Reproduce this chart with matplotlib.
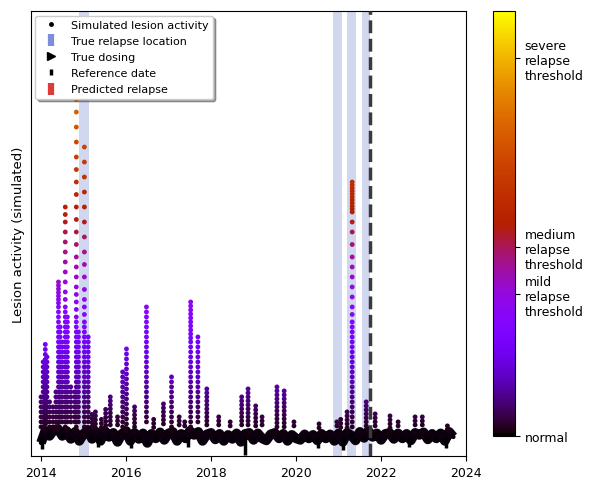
# Simulated lesion activity over time, coloured by severity, with relapse windows
# and the reference date marked.

import numpy as np
import matplotlib.pyplot as plt
from matplotlib.colors import Normalize
from matplotlib.cm import ScalarMappable
from matplotlib.lines import Line2D

# ---------- Data ----------
# baseline noise, one value every 0.1 year starting 2014.0
base_start = 2014.0
base_step = 0.1
baseline_values = [
    -0.12, 0.12, 0.02, 0.14, 0.16, 0.02, 0.12, -0.04, 0.10, -0.08,
    0.06, 0.14, -0.04, 0.10, -0.08, 0.12, 0.00, 0.08, -0.10, 0.06,
    0.12, -0.08, 0.08, -0.04, 0.07, -0.12, 0.06, -0.03, 0.09, -0.06,
    0.07, 0.10, -0.08, 0.06, -0.03, 0.12, 0.04, 0.10, -0.08, 0.05,
    0.08, -0.05, 0.06, -0.08, 0.04, -0.04, 0.07, -0.10, 0.06, 0.08,
    -0.06, 0.07, -0.03, -0.07, 0.05, 0.08, -0.03, 0.06, -0.08, 0.04,
    -0.03, -0.06, 0.05, -0.03, 0.04, -0.07, 0.06, -0.03, 0.05, -0.08,
    0.07, -0.10, 0.08, 0.03, -0.07, 0.10, -0.02, 0.12, 0.00, 0.07,
    -0.06, 0.06, 0.08, -0.04, 0.07, -0.03, 0.06, -0.07, 0.08, 0.04,
    0.09, -0.05, 0.06, -0.03, 0.07, -0.08, 0.10, 0.00,
]

# short downward ticks below the band
dip_dates = [2014.02, 2015.35, 2016.12, 2017.45, 2018.80, 2020.52, 2021.10, 2022.65, 2023.52]
dip_values = [-0.24, -0.20, -0.22, -0.20, -0.36, -0.22, -0.26, -0.20, -0.22]

# activity flares: date and the heights of the daily points in each flare
spike_dates = [
    2014.00, 2014.05, 2014.10, 2014.14, 2014.20, 2014.28, 2014.35, 2014.41,
    2014.45, 2014.50, 2014.57, 2014.62, 2014.70, 2014.79, 2014.83, 2014.88,
    2015.02, 2015.11, 2015.20, 2015.28, 2015.42, 2015.52, 2015.63, 2015.80,
    2015.92, 2016.01, 2016.20, 2016.48, 2016.65, 2016.88, 2017.07, 2017.25,
    2017.38, 2017.52, 2017.69, 2017.90, 2018.18, 2018.45, 2018.72, 2018.87,
    2019.05, 2019.20, 2019.55, 2019.72, 2019.95, 2020.54, 2020.96, 2021.05,
    2021.20, 2021.32, 2021.65, 2021.86, 2022.21, 2022.40, 2022.80, 2022.97,
    2023.56,
]
spike_values = [
    [0.8, 0.7, 0.6, 0.5, 0.4, 0.3, 0.2],
    [1.5, 1.4, 1.3, 1.2, 1.1, 1.0, 0.9, 0.8, 0.7, 0.6, 0.5, 0.4, 0.3, 0.2],
    [1.85, 1.75, 1.65, 1.55, 1.45, 1.35, 1.25, 1.15, 1.05, 0.95, 0.85,
     0.75, 0.65, 0.55, 0.45, 0.35, 0.25],
    [1.6, 1.5, 1.4, 1.3, 1.2, 1.1, 1.0, 0.9, 0.8, 0.7, 0.6, 0.5, 0.4, 0.3],
    [0.7, 0.6, 0.5, 0.4, 0.3, 0.2],
    [0.6, 0.5, 0.4, 0.3, 0.2],
    [0.9, 0.8, 0.7, 0.6, 0.5, 0.4, 0.3, 0.2],
    [3.1, 3.03, 2.96, 2.89, 2.82, 2.75, 2.68, 2.6, 2.5, 2.4, 2.3, 2.2, 2.1,
     2.0, 1.9, 1.8, 1.7, 1.6, 1.5, 1.4, 1.3, 1.2, 1.1, 1.0, 0.9, 0.8, 0.7,
     0.6, 0.5, 0.4, 0.3, 0.2],
    [2.2, 2.1, 2.0, 1.9, 1.8, 1.7, 1.6, 1.5, 1.4, 1.3, 1.2, 1.1, 1.0, 0.9,
     0.8, 0.7, 0.6, 0.5, 0.4, 0.3],
    [1.9, 1.8, 1.7, 1.6, 1.5, 1.4, 1.3, 1.2, 1.1, 1.0, 0.9, 0.8, 0.7, 0.6,
     0.5, 0.4, 0.3],
    [4.6, 4.45, 4.3, 4.1, 3.9, 3.7, 3.5, 3.3, 3.1, 2.9, 2.75, 2.6, 2.5, 2.4,
     2.3, 2.2, 2.1, 2.0, 1.9, 1.8, 1.7, 1.6, 1.5, 1.4, 1.3, 1.2, 1.1, 1.0,
     0.9, 0.8, 0.7, 0.6, 0.5, 0.4, 0.3, 0.2],
    [2.4, 2.3, 2.2, 2.1, 2.0, 1.9, 1.8, 1.7, 1.6, 1.5, 1.4, 1.3, 1.2, 1.1,
     1.0, 0.9, 0.8, 0.7, 0.6, 0.5, 0.4, 0.3],
    [1.0, 0.9, 0.8, 0.7, 0.6, 0.5, 0.4, 0.3],
    [0.9, 0.8, 0.7, 0.6, 0.5, 0.4, 0.3],
    [8.1, 7.85, 7.6, 7.3, 7.0, 6.75, 6.5, 6.2, 5.9, 5.6, 5.35, 5.1, 4.85,
     4.6, 4.35, 4.1, 3.85, 3.6, 3.4, 3.2, 3.0, 2.85, 2.7, 2.55, 2.4, 2.3,
     2.2, 2.1, 2.0, 1.9, 1.8, 1.7, 1.6, 1.5, 1.4, 1.3, 1.2, 1.1, 1.0, 0.9,
     0.8, 0.7, 0.6, 0.5, 0.4, 0.3, 0.2],
    [2.1, 2.0, 1.9, 1.8, 1.7, 1.6, 1.5, 1.4, 1.3, 1.2, 1.1, 1.0, 0.9, 0.8,
     0.7, 0.6, 0.5, 0.4, 0.3],
    [5.8, 5.5, 5.2, 4.9, 4.6, 4.3, 4.0, 3.7, 3.45, 3.2, 2.95, 2.75, 2.6,
     2.45, 2.3, 2.2, 2.1, 2.0, 1.9, 1.8, 1.7, 1.6, 1.5, 1.4, 1.3, 1.2, 1.1,
     1.0, 0.9, 0.8, 0.7, 0.6, 0.5, 0.4, 0.3, 0.2],
    [2.0, 1.9, 1.8, 1.7, 1.6, 1.5, 1.4, 1.3, 1.2, 1.1, 1.0, 0.9, 0.8, 0.7,
     0.6, 0.5, 0.4, 0.3],
    [0.45, 0.37, 0.29, 0.21],
    [0.5, 0.42, 0.34, 0.26, 0.18],
    [0.35, 0.27, 0.19],
    [0.55, 0.47, 0.39, 0.31, 0.23],
    [0.8, 0.72, 0.64, 0.56, 0.48, 0.4, 0.32, 0.24],
    [0.4, 0.32, 0.24],
    [1.3, 1.2, 1.1, 1.0, 0.9, 0.8, 0.7, 0.6, 0.5, 0.4, 0.3, 0.2],
    [1.76, 1.66, 1.56, 1.46, 1.36, 1.26, 1.16, 1.06, 0.96, 0.86, 0.76,
     0.66, 0.56, 0.46, 0.36, 0.26],
    [0.6, 0.52, 0.44, 0.36, 0.28, 0.2],
    [2.6, 2.5, 2.4, 2.3, 2.2, 2.1, 2.0, 1.9, 1.8, 1.7, 1.6, 1.5, 1.4, 1.3,
     1.2, 1.1, 1.0, 0.9, 0.8, 0.7, 0.6, 0.5, 0.4, 0.3],
    [0.35, 0.27, 0.19],
    [0.66, 0.58, 0.5, 0.42, 0.34, 0.26],
    [1.2, 1.1, 1.0, 0.9, 0.8, 0.7, 0.6, 0.5, 0.4, 0.3, 0.2],
    [0.4, 0.32, 0.24],
    [0.3, 0.22],
    [2.7, 2.62, 2.54, 2.46, 2.38, 2.3, 2.22, 2.14, 2.06, 1.98, 1.9, 1.8,
     1.7, 1.6, 1.5, 1.4, 1.3, 1.2, 1.1, 1.0, 0.9, 0.8, 0.7, 0.6, 0.5, 0.4,
     0.3, 0.2],
    [2.0, 1.9, 1.8, 1.7, 1.6, 1.5, 1.4, 1.3, 1.2, 1.1, 1.0, 0.9, 0.8, 0.7,
     0.6, 0.5, 0.4, 0.3],
    [0.96, 0.88, 0.8, 0.72, 0.64, 0.56, 0.48, 0.4, 0.32, 0.24],
    [0.4, 0.32, 0.24],
    [0.3, 0.22],
    [0.8, 0.72, 0.64, 0.56, 0.48, 0.4, 0.32, 0.24],
    [0.96, 0.88, 0.8, 0.72, 0.64, 0.56, 0.48, 0.4, 0.32, 0.24],
    [0.62, 0.54, 0.46, 0.38, 0.3, 0.22],
    [0.4, 0.32, 0.24],
    [1.0, 0.92, 0.84, 0.76, 0.68, 0.6, 0.52, 0.44, 0.36, 0.28, 0.2],
    [0.92, 0.84, 0.76, 0.68, 0.6, 0.52, 0.44, 0.36, 0.28, 0.2],
    [0.3, 0.22],
    [0.26, 0.18],
    [0.3, 0.22],
    [0.35, 0.27, 0.19],
    [0.5, 0.42, 0.34, 0.26, 0.18],
    [5.1, 5.04, 4.98, 4.92, 4.86, 4.8, 4.74, 4.68, 4.62, 4.56, 4.5, 4.3,
     4.1, 3.85, 3.6, 3.4, 3.2, 3.0, 2.8, 2.6, 2.45, 2.3, 2.2, 2.1, 2.0,
     1.9, 1.8, 1.7, 1.6, 1.5, 1.4, 1.3, 1.2, 1.1, 1.0, 0.9, 0.8, 0.7, 0.6,
     0.5, 0.4, 0.3, 0.2],
    [0.7, 0.62, 0.54, 0.46, 0.38, 0.3, 0.22],
    [0.46, 0.38, 0.3, 0.22],
    [0.42, 0.34, 0.26, 0.18],
    [0.3, 0.22],
    [0.4, 0.32, 0.24],
    [0.4, 0.32, 0.24],
    [0.22, 0.15],
]

relapse_starts = [2014.90, 2020.87, 2021.20, 2021.55]
relapse_ends = [2015.12, 2021.08, 2021.41, 2021.74]
reference_date = 2021.74

threshold_values = [0, 3, 4, 8]
threshold_labels = ["normal",
                    "mild\nrelapse\nthreshold",
                    "medium\nrelapse\nthreshold",
                    "severe\nrelapse\nthreshold"]

# ---------- Plot ----------
cmap = plt.get_cmap("gnuplot")
norm = Normalize(vmin=0, vmax=9)

fig = plt.figure(figsize=(5.93, 4.85), dpi=100)
ax = fig.add_axes([0.052, 0.058, 0.734, 0.917])

for s, e in zip(relapse_starts, relapse_ends):
    ax.axvspan(s, e, color="#8a9bd8", alpha=0.4, lw=0, zorder=0)

base_dates = base_start + base_step * np.arange(len(baseline_values))
ax.plot(base_dates, baseline_values, color="#0b0010", lw=7,
        solid_capstyle="butt", zorder=1)
ax.scatter(base_dates, baseline_values, c=baseline_values, cmap=cmap, norm=norm,
           s=10, linewidths=0, zorder=2)
ax.vlines(dip_dates, 0, dip_values, color="black", lw=2.5, zorder=1)

sx = np.concatenate([[d] * len(v) for d, v in zip(spike_dates, spike_values)])
sy = np.concatenate([np.asarray(v, float) for v in spike_values])
ax.scatter(sx, sy, c=sy, cmap=cmap, norm=norm, s=12, linewidths=0, zorder=3)

ax.axvline(reference_date, color="#3a3a3a", ls="--", lw=2.5, zorder=4)

ax.set_xlim(2013.76, 2024.0)
ax.set_ylim(-0.38, 8.52)
ax.set_xticks(range(2014, 2025, 2))
ax.set_xticklabels([str(y) for y in range(2014, 2025, 2)], fontsize=9)
ax.set_yticks([])
ax.set_ylabel("Lesion activity (simulated)", fontsize=9.5)

handles = [
    Line2D([], [], marker="o", ms=2.5, color="black", ls="none"),
    Line2D([], [], marker="|", ms=9, mew=4.5, color="#7d8fdb", ls="none"),
    Line2D([], [], marker=">", ms=6, color="black", ls="none"),
    Line2D([], [], marker="|", ms=5, mew=2.5, color="black", ls="none"),
    Line2D([], [], marker="|", ms=9, mew=4.5, color="#dd3a3a", ls="none"),
]
labels = ["Simulated lesion activity", "True relapse location", "True dosing",
          "Reference date", "Predicted relapse"]
ax.legend(handles, labels, loc="upper left", fontsize=8, shadow=True,
          framealpha=1, handlelength=2.0, handletextpad=0.8,
          labelspacing=0.55, borderaxespad=0.4)

cax = fig.add_axes([0.8314, 0.099, 0.0371, 0.876])
cb = fig.colorbar(ScalarMappable(norm=norm, cmap=cmap), cax=cax, ticks=threshold_values)
cb.ax.set_yticklabels(threshold_labels, fontsize=9)

fig.savefig("out.png", dpi=100)
